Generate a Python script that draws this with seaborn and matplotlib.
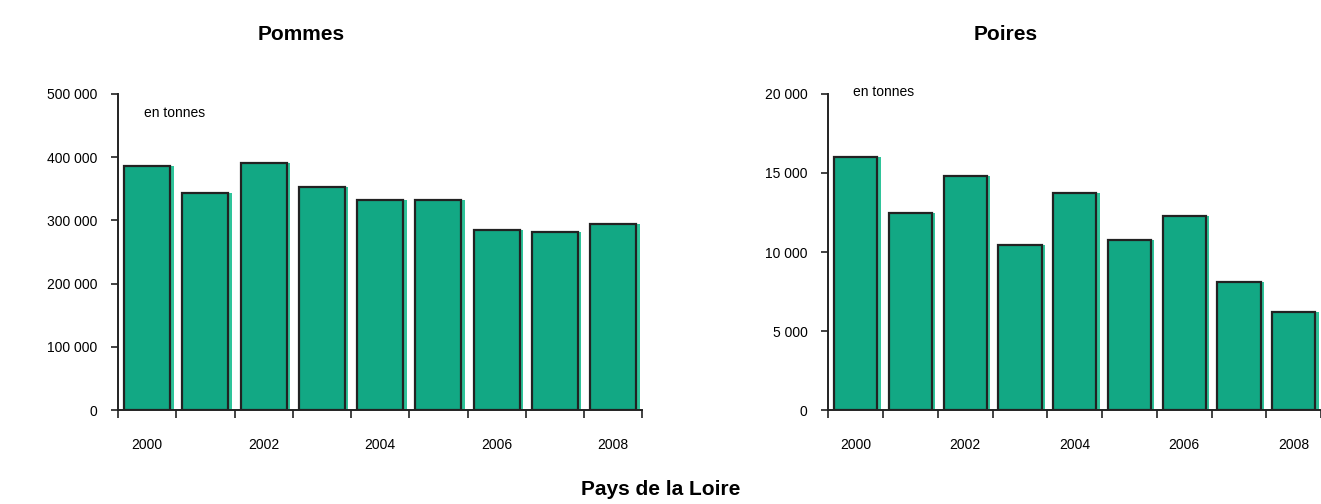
import numpy as np
import pandas as pd
import matplotlib
matplotlib.use("Agg")
import matplotlib.pyplot as plt
import matplotlib.patheffects as pe
import seaborn as sns

# Données (en tonnes)
annees = [2000, 2001, 2002, 2003, 2004, 2005, 2006, 2007, 2008]
pommes = [386000, 344000, 391000, 353000, 332000, 332000, 285000, 281500, 294000]
poires = [16000, 12450, 14800, 10450, 13750, 10750, 12250, 8100, 6200]

etiquettes_annees = ["2000", "", "2002", "", "2004", "", "2006", "", "2008"]
ticks_pommes = [0, 100000, 200000, 300000, 400000, 500000]
ticks_poires = [0, 5000, 10000, 15000, 20000]

VERT = "#12a884"
OMBRE = "#2fc49a"

sns.set_theme(style="white")
plt.rcParams['font.family'] = ['Liberation Sans', 'DejaVu Sans']
plt.rcParams['text.color'] = 'black'
plt.rcParams['xtick.color'] = 'black'
plt.rcParams['ytick.color'] = 'black'


def fmt_milliers(v):
    return f"{int(v):,}".replace(",", " ")


def panneau(ax, valeurs, ticks, titre, x_titre, y_tonnes):
    df = pd.DataFrame({"annee": [str(a) for a in annees], "valeur": valeurs})
    sns.barplot(data=df, x="annee", y="valeur", color=VERT, saturation=1,
                edgecolor="#222222", linewidth=1.6, width=0.79, ax=ax)
    for p in ax.patches:
        p.set_path_effects([pe.SimplePatchShadow(offset=(2.5, 0), shadow_rgbFace=OMBRE, alpha=1),
                            pe.Normal()])
    ax.set_xlim(-0.5, len(annees) - 0.5)
    ax.set_ylim(0, ticks[-1])
    ax.set_yticks(ticks)
    ax.set_yticklabels([fmt_milliers(t) for t in ticks], fontsize=10)
    # graduations aux limites de catégories, étiquettes au centre
    ax.set_xticks(np.arange(-0.5, len(annees), 1.0))
    ax.set_xticklabels([])
    ax.set_xticks(np.arange(len(annees)), minor=True)
    ax.set_xticklabels(etiquettes_annees, minor=True, fontsize=10)
    ax.tick_params(axis="x", which="major", bottom=True, direction="out",
                   length=6, width=1.2, color="#222222")
    ax.tick_params(axis="x", which="minor", bottom=True, length=0, pad=20)
    ax.tick_params(axis="y", left=True, direction="out", length=5, width=1.2,
                   color="#222222", pad=10)
    ax.set_xlabel("")
    ax.set_ylabel("")
    sns.despine(ax=ax)
    for s in ["left", "bottom"]:
        ax.spines[s].set_color("#222222")
        ax.spines[s].set_linewidth(1.4)
    ax.set_title(titre, fontsize=15, fontweight="bold", x=x_titre, y=1.0, pad=39)
    ax.text(0.05, y_tonnes, "en tonnes", transform=ax.transAxes, fontsize=10, va="center")
    ax.grid(False)


fig = plt.figure(figsize=(13.21, 5.04), dpi=100)
ax1 = fig.add_axes([0.0893, 0.1865, 0.397, 0.627])
ax2 = fig.add_axes([0.627, 0.1865, 0.373, 0.627])

panneau(ax1, pommes, ticks_pommes, "Pommes", 0.35, 0.94)
panneau(ax2, poires, ticks_poires, "Poires", 0.36, 1.005)

fig.text(0.5, 0.028, "Pays de la Loire", ha="center", va="center",
         fontsize=15, fontweight="bold")

fig.savefig("out.png", dpi=100, facecolor="white")
